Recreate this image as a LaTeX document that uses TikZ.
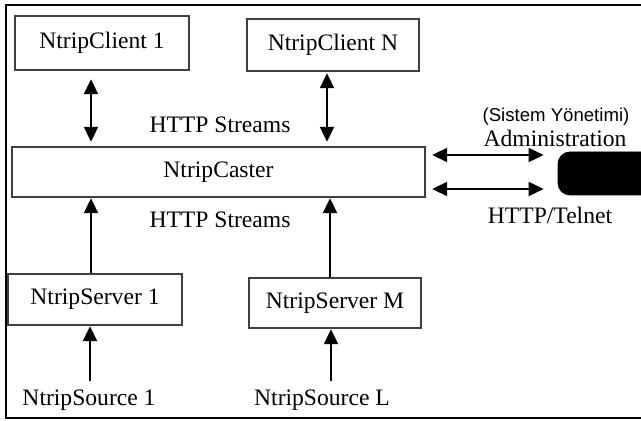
\documentclass[tikz,border=0pt]{standalone}
\usepackage{fontspec}
\setmainfont{Liberation Serif}
\newfontfamily\yonetimfont{Liberation Sans}
\usetikzlibrary{arrows.meta}

\begin{document}
\begin{tikzpicture}[x=0.5pt, y=-0.5pt,
    font=\fontsize{11.8}{13}\selectfont,
    caja/.style={draw=black!75, line width=1.2pt, inner sep=0pt},
    texto/.style={inner sep=0pt},
    flecha/.style={line width=1pt, -{Triangle[length=7.5pt, width=7pt]}},
    dflecha/.style={line width=1pt, {Triangle[length=7.5pt, width=7pt]}-{Triangle[length=7.5pt, width=7pt]}}]
    \useasboundingbox (0,0) rectangle (641,421);
    \clip (0,0) rectangle (641,421);

    % Marco
    \draw[line width=1.3pt] (641,5) -- (6,5) -- (6,418) -- (641,418);

    % Clientes
    \node[caja, minimum width=87pt, minimum height=27pt] (c1) at (102,43) {NtripClient 1};
    \node[caja, minimum width=86pt, minimum height=26pt] (cN) at (333,45) {NtripClient N};

    % Caster
    \node[caja, minimum width=206.5pt, minimum height=25pt] (caster) at (218.5,172) {NtripCaster};
    \node[draw, fill=black, rounded corners=6pt, minimum width=51pt, minimum height=21.5pt] (admin) at (609,173.5) {};

    % Servidores y fuentes
    \node[caja, minimum width=87pt, minimum height=25.5pt] (s1) at (95,299.5) {NtripServer 1};
    \node[caja, minimum width=86pt, minimum height=25pt] (sM) at (335,303) {NtripServer M};
    \node[texto] (src1) at (89,400) {NtripSource 1};
    \node[texto] (srcL) at (322,400) {NtripSource L};

    % Etiquetas
    \node[texto] (http1) at (220,125) {HTTP Streams};
    \node[texto] (http2) at (220,220) {HTTP Streams};
    \node[texto, font=\yonetimfont\fontsize{9.3}{10}\selectfont] (sistem) at (556,117) {(Sistem Yönetimi)};
    \node[texto] (adm) at (555,138) {Administration};
    \node[texto] (telnet) at (550,215) {HTTP/Telnet};

    % Flechas
    \draw[dflecha, shorten <=4pt, shorten >=2pt] ([xshift=-5.5pt]c1.south) -- ([xshift=-5.5pt]c1.south |- caster.north);
    \draw[dflecha, shorten <=0.5pt, shorten >=2pt] ([xshift=-3pt]cN.south) -- ([xshift=-3pt]cN.south |- caster.north);
    \draw[flecha] ([xshift=-2pt]s1.north) -- ([xshift=-2pt]s1.north |- caster.south);
    \draw[flecha] ([xshift=-2.5pt]sM.north) -- ([xshift=-2.5pt]sM.north |- caster.south);
    \draw[flecha, shorten <=4pt] ([xshift=0.5pt]src1.north) -- ([xshift=0.5pt]src1.north |- s1.south);
    \draw[flecha, shorten <=4pt] ([xshift=4.5pt]srcL.north) -- ([xshift=4.5pt]srcL.north |- sM.south);
    \draw[dflecha, shorten <=3pt, shorten >=7pt] ([yshift=8.5pt]caster.east) -- ([yshift=8.5pt]caster.east -| admin.west);
    \draw[dflecha, shorten <=3pt, shorten >=7pt] ([yshift=-8.5pt]caster.east) -- ([yshift=-8.5pt]caster.east -| admin.west);
\end{tikzpicture}
\end{document}
